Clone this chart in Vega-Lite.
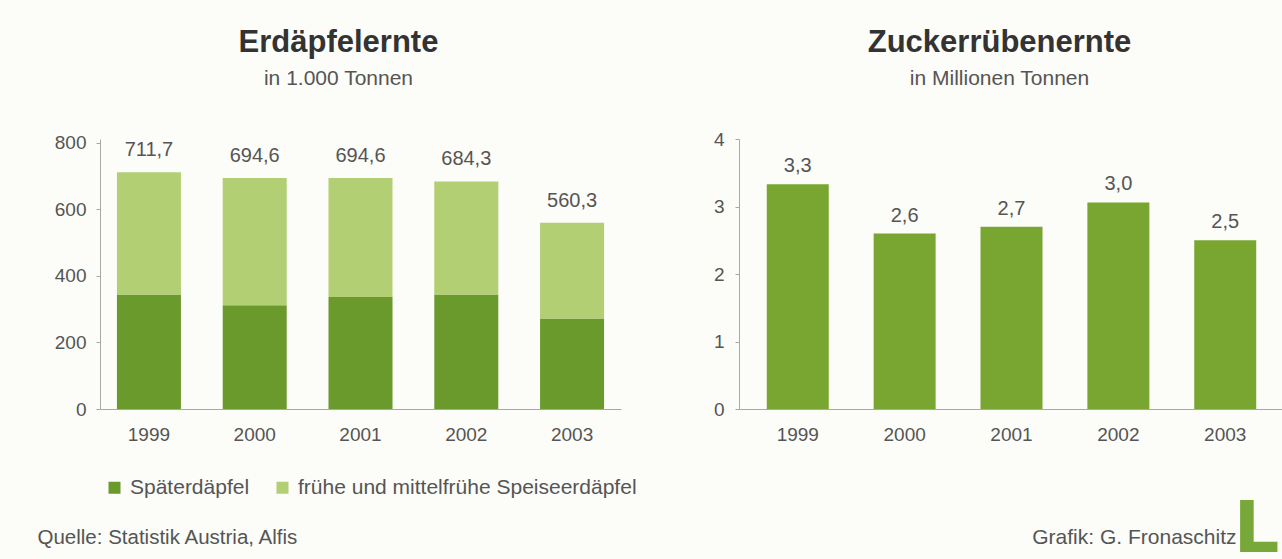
{
  "$schema": "https://vega.github.io/schema/vega-lite/v6.json",
  "background": "#fcfcf8",
  "padding": {"left": 37, "top": 26, "right": 0, "bottom": 0},
  "spacing": 92,
  "config": {
    "font": "Liberation Sans",
    "view": {"stroke": null},
    "axis": {"labelColor": "#555555", "labelFontSize": 19, "domainColor": "#a8a8a8", "tickColor": "#a8a8a8", "grid": false},
    "title": {"fontSize": 31, "fontWeight": "bold", "color": "#333333", "subtitleFontSize": 21, "subtitleColor": "#555555", "subtitlePadding": 9, "anchor": "middle"}
  },
  "hconcat": [
    {
      "width": 521,
      "height": 270,
      "title": {"text": "Erdäpfelernte", "subtitle": "in 1.000 Tonnen", "dx": -22, "offset": 44},
      "data": {"values": [
        {"jahr": "1999", "sorte": "Späterdäpfel", "menge": 344},
        {"jahr": "1999", "sorte": "frühe und mittelfrühe Speiseerdäpfel", "menge": 367.7},
        {"jahr": "2000", "sorte": "Späterdäpfel", "menge": 312},
        {"jahr": "2000", "sorte": "frühe und mittelfrühe Speiseerdäpfel", "menge": 382.6},
        {"jahr": "2001", "sorte": "Späterdäpfel", "menge": 337},
        {"jahr": "2001", "sorte": "frühe und mittelfrühe Speiseerdäpfel", "menge": 357.6},
        {"jahr": "2002", "sorte": "Späterdäpfel", "menge": 344},
        {"jahr": "2002", "sorte": "frühe und mittelfrühe Speiseerdäpfel", "menge": 340.3},
        {"jahr": "2003", "sorte": "Späterdäpfel", "menge": 272},
        {"jahr": "2003", "sorte": "frühe und mittelfrühe Speiseerdäpfel", "menge": 288.3}
      ]},
      "layer": [
        {
          "mark": {"type": "bar"},
          "encoding": {
            "x": {"field": "jahr", "type": "nominal", "scale": {"paddingInner": 0.395, "paddingOuter": 0.16},
              "axis": {"labelAngle": 0, "ticks": false, "labelPadding": 16, "title": "Quelle: Statistik Austria, Alfis", "titleX": -63, "titleY": 134, "titleAlign": "left", "titleBaseline": "alphabetic", "titleFontSize": 20.5, "titleFontWeight": "normal", "titleColor": "#555555"}},
            "y": {"field": "menge", "type": "quantitative", "stack": "zero", "scale": {"domain": [0, 812], "nice": false},
              "axis": {"title": null, "values": [0, 100, 200, 300, 400, 500, 600, 700, 800], "labelExpr": "datum.value % 200 === 0 ? datum.label : ''", "tickSize": 4, "labelPadding": 10}},
            "color": {"field": "sorte", "type": "nominal", "sort": ["Späterdäpfel", "frühe und mittelfrühe Speiseerdäpfel"],
              "scale": {"domain": ["Späterdäpfel", "frühe und mittelfrühe Speiseerdäpfel"], "range": ["#6b9a2c", "#b3cf73"]},
              "legend": {"orient": "none", "legendX": 4, "legendY": 338, "direction": "horizontal", "title": null, "symbolType": "square", "symbolSize": 144, "symbolStrokeWidth": 0, "labelFontSize": 21, "labelColor": "#555555", "labelLimit": 0, "columnPadding": 22, "labelOffset": 5}},
            "order": {"field": "sorte", "sort": "ascending"}
          }
        },
        {
          "data": {"values": [
            {"jahr": "1999", "gesamt": 711.7, "beschriftung": "711,7"},
            {"jahr": "2000", "gesamt": 694.6, "beschriftung": "694,6"},
            {"jahr": "2001", "gesamt": 694.6, "beschriftung": "694,6"},
            {"jahr": "2002", "gesamt": 684.3, "beschriftung": "684,3"},
            {"jahr": "2003", "gesamt": 560.3, "beschriftung": "560,3"}
          ]},
          "mark": {"type": "text", "dy": -16, "baseline": "alphabetic", "fontSize": 20, "color": "#555555"},
          "encoding": {
            "x": {"field": "jahr", "type": "nominal"},
            "y": {"field": "gesamt", "type": "quantitative"},
            "text": {"field": "beschriftung"}
          }
        }
      ]
    },
    {
      "width": 545,
      "height": 270,
      "title": {"text": "Zuckerrübenernte", "subtitle": "in Millionen Tonnen", "dx": -12, "offset": 40},
      "data": {"values": [
        {"jahr": "1999", "menge": 3.33, "beschriftung": "3,3"},
        {"jahr": "2000", "menge": 2.6, "beschriftung": "2,6"},
        {"jahr": "2001", "menge": 2.7, "beschriftung": "2,7"},
        {"jahr": "2002", "menge": 3.06, "beschriftung": "3,0"},
        {"jahr": "2003", "menge": 2.5, "beschriftung": "2,5"}
      ]},
      "layer": [
        {
          "mark": {"type": "bar", "color": "#78a630"},
          "encoding": {
            "x": {"field": "jahr", "type": "nominal", "scale": {"paddingInner": 0.42, "paddingOuter": 0.26},
              "axis": {"labelAngle": 0, "ticks": false, "labelPadding": 16, "title": "Grafik: G. Fronaschitz", "titleX": 497, "titleY": 134, "titleAlign": "right", "titleBaseline": "alphabetic", "titleFontSize": 21, "titleFontWeight": "normal", "titleColor": "#555555"}},
            "y": {"field": "menge", "type": "quantitative", "scale": {"domain": [0, 4]},
              "axis": {"title": null, "values": [0, 1, 2, 3, 4], "tickSize": 4, "labelPadding": 11}}
          }
        },
        {
          "mark": {"type": "text", "dy": -12, "baseline": "alphabetic", "fontSize": 20, "color": "#555555"},
          "encoding": {
            "x": {"field": "jahr", "type": "nominal"},
            "y": {"field": "menge", "type": "quantitative", "axis": null},
            "text": {"field": "beschriftung"}
          }
        },
        {
          "mark": {"type": "bar", "opacity": 0},
          "encoding": {
            "x": {"field": "jahr", "type": "nominal"},
            "y": {"field": "menge", "type": "quantitative",
              "axis": {"orient": "right", "labels": false, "ticks": false, "domain": false, "title": "L", "titleAngle": 0, "titleX": -5, "titleY": 412, "titleAlign": "right", "titleBaseline": "alphabetic", "titleFont": "DejaVu Sans", "titleFontSize": 72, "titleFontWeight": "bold", "titleColor": "#79a83a"}}
          }
        }
      ],
      "resolve": {"axis": {"y": "independent"}}
    }
  ]
}
